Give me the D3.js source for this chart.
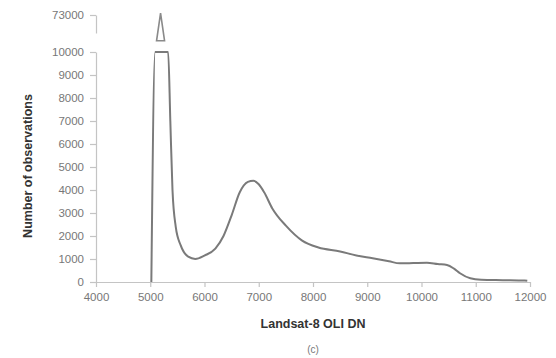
<!DOCTYPE html>
<html><head><meta charset="utf-8">
<script src="https://cdn.jsdelivr.net/npm/d3@7"></script>
<style>
body{margin:0;background:#fff;}
svg{display:block;font-family:"Liberation Sans",Arial,sans-serif;}
</style></head>
<body><svg id="c" width="556" height="358"></svg>
<script>
// Landsat-8 OLI DN histogram (values above 10000 are cut by the axis break)
const dn =    [5020,5090,5200,5330,5370,5410,5470,5560,5700,5830,6000,6200,6350,6500,6650,6800,6900,7000,7100,7250,7500,7800,8100,8500,8800,9100,9400,9600,10100,10300,10470,10600,10710,10900,11100,11500,11900,11950];
const count = [0,30000,73000,30000,7000,4000,2400,1600,1100,1000,1150,1450,2000,2900,3900,4350,4400,4250,3900,3200,2450,1800,1500,1330,1150,1030,900,810,840,780,740,580,380,160,100,80,60,50];
const xTicks = [4000,5000,6000,7000,8000,9000,10000,11000,12000];
const yTicks = [0,1000,2000,3000,4000,5000,6000,7000,8000,9000,10000];
const yBreakTicks = [73000];
const peakValue = 73000;
const xTitle = "Landsat-8 OLI DN";
const yTitle = "Number of observations";
const caption = "(c)";

const svg = d3.select("#c");
const x = d3.scaleLinear().domain([4000,12000]).range([96,530]);
const y = d3.scaleLinear().domain([0,10000]).range([282,52]);
const yTop = d3.scaleLinear().domain([70000,73000]).range([33,15]);
const axisCol = "#c4c4c4", tickCol = "#777";

const gx = svg.append("g").attr("transform",`translate(0,${y(0)})`)
  .call(d3.axisBottom(x).tickValues(xTicks).tickFormat(d3.format("d")).tickSize(5).tickSizeOuter(0).tickPadding(6));
const gy = svg.append("g").attr("transform",`translate(${x(4000)},0)`)
  .call(d3.axisLeft(y).tickValues(yTicks).tickFormat(d3.format("d")).tickSize(6).tickSizeOuter(0).tickPadding(6));
const gy2 = svg.append("g").attr("transform",`translate(${x(4000)},0)`)
  .call(d3.axisLeft(yTop).tickValues(yBreakTicks).tickFormat(d3.format("d")).tickSize(6).tickSizeOuter(0).tickPadding(6));
[gx,gy,gy2].forEach(g=>{
  g.selectAll("path,line").attr("stroke",axisCol).attr("stroke-width",1.2);
  g.selectAll("text").attr("fill",tickCol).style("font-size","11.5px");
});

const line = d3.line().x((d,i)=>x(dn[i])).y((d,i)=>y(Math.min(count[i],10000))).curve(d3.curveMonotoneX);
svg.append("path").datum(count).attr("d",line)
  .attr("fill","none").attr("stroke","#7a7a7a").attr("stroke-width",2).attr("stroke-linejoin","round");

const iPeak = count.indexOf(peakValue);
const ax = x(dn[iPeak]-10);
svg.append("path")
  .attr("d",`M${ax},${yTop(73300)} L${ax-4},${yTop(68700)} L${ax+4},${yTop(68700)} Z`)
  .attr("fill","#fff").attr("stroke","#8a8a8a").attr("stroke-width",1.6);

svg.append("text").attr("x",313).attr("y",328).attr("text-anchor","middle")
  .style("font-size","12.5px").style("font-weight","bold").attr("fill","#333").text(xTitle);
svg.append("text").attr("transform","translate(32,166) rotate(-90)").attr("text-anchor","middle")
  .style("font-size","12.5px").style("font-weight","bold").attr("fill","#333").text(yTitle);
svg.append("text").attr("x",313).attr("y",353).attr("text-anchor","middle")
  .style("font-size","10px").attr("fill","#777").text(caption);
</script></body></html>
